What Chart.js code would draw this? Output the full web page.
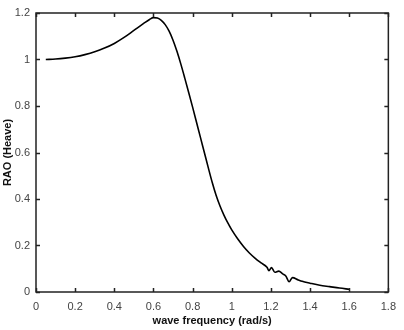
<!DOCTYPE html>
<html>
<head>
<meta charset="utf-8">
<script src="https://cdn.jsdelivr.net/npm/chart.js@4/dist/chart.umd.min.js"></script>
<style>
  html, body { margin: 0; padding: 0; background: #fff; }
  #wrap { width: 404px; height: 330px; }
</style>
</head>
<body>
<div id="wrap"><canvas id="raoChart" width="404" height="330"></canvas></div>
<script>
// heave RAO against wave frequency
const freq = [0.05, 0.1, 0.15, 0.2, 0.25, 0.3, 0.35, 0.4, 0.45, 0.5, 0.55, 0.58, 0.6, 0.62, 0.64, 0.66, 0.68, 0.7,
  0.72, 0.74, 0.76, 0.78, 0.8, 0.82, 0.84, 0.86, 0.88, 0.9, 0.92, 0.94, 0.96, 0.98, 1.0, 1.03, 1.06, 1.09,
  1.12, 1.15, 1.18, 1.19, 1.203, 1.22, 1.24, 1.26, 1.276, 1.293, 1.31, 1.34, 1.36, 1.4, 1.45, 1.5, 1.55, 1.6];
const rao = [1.0, 1.002, 1.006, 1.012, 1.021, 1.033, 1.049, 1.069, 1.095, 1.125, 1.155, 1.172, 1.18, 1.178, 1.168, 1.15, 1.122, 1.083,
  1.035, 0.98, 0.92, 0.858, 0.795, 0.73, 0.665, 0.6, 0.535, 0.472, 0.416, 0.37, 0.331, 0.297, 0.267, 0.229, 0.196, 0.168,
  0.145, 0.125, 0.106, 0.092, 0.105, 0.085, 0.09, 0.078, 0.069, 0.044, 0.062, 0.052, 0.046, 0.038, 0.029, 0.023, 0.017, 0.012];
const xTicks = [0, 0.2, 0.4, 0.6, 0.8, 1, 1.2, 1.4, 1.6, 1.8];
const yTicks = [0, 0.2, 0.4, 0.6, 0.8, 1, 1.2];

// box around the plot with inward tick marks on all four sides
const boxTicks = {
  id: 'boxTicks',
  afterDraw(chart) {
    const { ctx, chartArea: a, scales } = chart;
    const len = 4;
    ctx.save();
    ctx.strokeStyle = '#222';
    ctx.lineWidth = 1.5;
    ctx.strokeRect(a.left, a.top, a.right - a.left, a.bottom - a.top);
    ctx.beginPath();
    xTicks.forEach(v => {
      const px = Math.round(scales.x.getPixelForValue(v)) + 0.5;
      ctx.moveTo(px, a.bottom); ctx.lineTo(px, a.bottom - len);
      ctx.moveTo(px, a.top); ctx.lineTo(px, a.top + len);
    });
    yTicks.forEach(v => {
      const py = Math.round(scales.y.getPixelForValue(v)) + 0.5;
      ctx.moveTo(a.left, py); ctx.lineTo(a.left + len, py);
      ctx.moveTo(a.right, py); ctx.lineTo(a.right - len, py);
    });
    ctx.stroke();
    ctx.restore();
  }
};

new Chart(document.getElementById('raoChart'), {
  type: 'line',
  data: {
    datasets: [{
      data: freq.map((f, i) => ({ x: f, y: rao[i] })),
      borderColor: '#000',
      borderWidth: 1.6,
      pointRadius: 0,
      cubicInterpolationMode: 'monotone',
      fill: false
    }]
  },
  options: {
    responsive: false,
    animation: false,
    layout: { padding: { top: 13, right: 12, left: 1, bottom: 0 } },
    plugins: { legend: { display: false }, tooltip: { enabled: false } },
    scales: {
      x: {
        type: 'linear',
        min: 0, max: 1.8,
        afterFit(scale) { scale.height = 38; },
        afterBuildTicks(scale) { scale.ticks = xTicks.map(v => ({ value: v })); },
        grid: { display: false, drawTicks: false },
        border: { display: false },
        ticks: {
          padding: 8,
          color: '#444',
          font: { family: 'Liberation Sans, Arial, sans-serif', size: 11 },
          callback: v => String(v)
        },
        title: {
          display: true,
          text: 'wave frequency (rad/s)',
          color: '#111',
          padding: { top: 3, bottom: 2 },
          font: { family: 'Liberation Sans, Arial, sans-serif', size: 11, weight: 'bold' }
        }
      },
      y: {
        min: 0, max: 1.2,
        afterFit(scale) { scale.width = 35; },
        afterBuildTicks(scale) { scale.ticks = yTicks.map(v => ({ value: v })); },
        grid: { display: false, drawTicks: false },
        border: { display: false },
        ticks: {
          padding: 6,
          color: '#444',
          font: { family: 'Liberation Sans, Arial, sans-serif', size: 11 },
          callback: v => String(v)
        },
        title: {
          display: true,
          text: 'RAO (Heave)',
          color: '#111',
          padding: { top: 0, bottom: 0 },
          font: { family: 'Liberation Sans, Arial, sans-serif', size: 11, weight: 'bold' }
        }
      }
    }
  },
  plugins: [boxTicks]
});
</script>
</body>
</html>
